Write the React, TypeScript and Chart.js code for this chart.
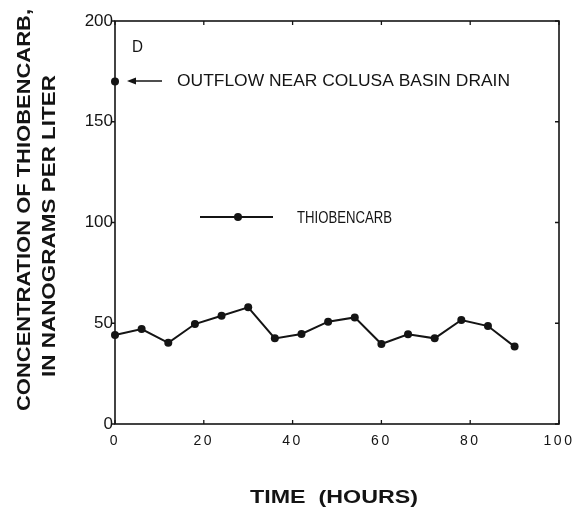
import React, { useEffect, useRef } from "react";
import { Chart, registerables } from "chart.js";

Chart.register(...registerables);

const hours = [0, 6, 12, 18, 24, 30, 36, 42, 48, 54, 60, 66, 72, 78, 84, 90];
const thiobencarb = [44.2, 47.1, 40.3, 49.6, 53.7, 57.9, 42.5, 44.7, 50.8, 52.9, 39.7, 44.5, 42.5, 51.6, 48.6, 38.4];
const outflowHours = [0];
const outflowValues = [170];
const xTickValues = [0, 20, 40, 60, 80, 100];
const yTickValues = [0, 50, 100, 150, 200];

const panelLabel = "D";
const outflowLabel = "OUTFLOW NEAR COLUSA BASIN DRAIN";
const seriesLabel = "THIOBENCARB";
const yTitle1 = "CONCENTRATION OF THIOBENCARB,";
const yTitle2 = "IN NANOGRAMS PER LITER";
const xTitle = "TIME  (HOURS)";

const INK = "#141414";
const FONT = '"Liberation Sans", Arial, sans-serif';

function fitText(ctx: CanvasRenderingContext2D, text: string, x: number, y: number, width: number) {
  const w = ctx.measureText(text).width;
  ctx.save();
  ctx.translate(x, y);
  ctx.scale(width / w, 1);
  ctx.textAlign = "left";
  ctx.textBaseline = "middle";
  ctx.fillText(text, 0, 0);
  ctx.restore();
}

function fitTextRot(ctx: CanvasRenderingContext2D, text: string, cx: number, cy: number, len: number) {
  const w = ctx.measureText(text).width;
  ctx.save();
  ctx.translate(cx, cy);
  ctx.rotate(-Math.PI / 2);
  ctx.scale(len / w, 1);
  ctx.textAlign = "center";
  ctx.textBaseline = "middle";
  ctx.fillText(text, 0, 0);
  ctx.restore();
}

const decorPlugin = {
  id: "decor",
  beforeDraw(chart: any) {
    const xs = chart.scales.x;
    if (xs && !xs.__spaced) {
      const orig = xs.drawLabels.bind(xs);
      xs.drawLabels = (area: any) => {
        const c: any = chart.ctx;
        c.save();
        c.letterSpacing = "2.5px";
        orig(area);
        c.restore();
      };
      xs.__spaced = true;
    }
  },
  afterDraw(chart: any) {
    const ctx: CanvasRenderingContext2D = chart.ctx;
    const { left, right, top, bottom } = chart.chartArea;
    const xs = chart.scales.x;
    const ys = chart.scales.y;
    ctx.save();
    (ctx as any).letterSpacing = "0px";
    ctx.strokeStyle = INK;
    ctx.fillStyle = INK;
    // frame
    ctx.lineWidth = 1.6;
    ctx.strokeRect(left, top, right - left, bottom - top);
    // tick marks
    ctx.lineWidth = 1.3;
    ctx.beginPath();
    xTickValues.forEach((v) => {
      const px = xs.getPixelForValue(v);
      ctx.moveTo(px, bottom);
      ctx.lineTo(px, bottom - 4);
      ctx.moveTo(px, top);
      ctx.lineTo(px, top + 4);
    });
    yTickValues.forEach((v) => {
      const py = ys.getPixelForValue(v);
      ctx.moveTo(left, py);
      ctx.lineTo(left - 3, py);
      ctx.moveTo(right, py);
      ctx.lineTo(right - 4, py);
    });
    ctx.stroke();

    // panel letter
    ctx.font = `16px ${FONT}`;
    fitText(ctx, panelLabel, 132, 48, 11);

    // arrow to outflow point
    ctx.lineWidth = 1.5;
    ctx.beginPath();
    ctx.moveTo(131, 81);
    ctx.lineTo(162, 81);
    ctx.stroke();
    ctx.beginPath();
    ctx.moveTo(127, 81);
    ctx.lineTo(136, 77.5);
    ctx.lineTo(136, 84.5);
    ctx.closePath();
    ctx.fill();
    ctx.font = `16px ${FONT}`;
    fitText(ctx, outflowLabel, 177, 82, 333);

    // legend
    ctx.lineWidth = 2;
    ctx.beginPath();
    ctx.moveTo(200, 217);
    ctx.lineTo(273, 217);
    ctx.stroke();
    ctx.beginPath();
    ctx.arc(238, 217, 4, 0, Math.PI * 2);
    ctx.fill();
    ctx.font = `16px ${FONT}`;
    fitText(ctx, seriesLabel, 297, 219, 95);

    // axis titles
    ctx.font = `bold 18px ${FONT}`;
    fitTextRot(ctx, yTitle1, 25, 210, 402);
    fitTextRot(ctx, yTitle2, 50, 226, 302);
    fitText(ctx, xTitle, 250, 498, 168);
    ctx.restore();
  },
};

export default function App() {
  const ref = useRef<HTMLCanvasElement | null>(null);
  useEffect(() => {
    if (!ref.current) return;
    const chart = new Chart(ref.current, {
      type: "line",
      data: {
        datasets: [
          {
            label: seriesLabel,
            data: hours.map((h, i) => ({ x: h, y: thiobencarb[i] })),
            borderColor: INK,
            backgroundColor: INK,
            borderWidth: 2,
            pointRadius: 4,
            pointBackgroundColor: INK,
            pointBorderWidth: 0,
            tension: 0,
          },
          {
            label: outflowLabel,
            data: outflowHours.map((h, i) => ({ x: h, y: outflowValues[i] })),
            borderColor: INK,
            backgroundColor: INK,
            showLine: false,
            pointRadius: 4,
            pointBorderWidth: 0,
          },
        ],
      },
      options: {
        responsive: false,
        animation: false,
        clip: false,
        layout: { padding: { top: 21, right: 27, left: 0, bottom: 0 } },
        plugins: { legend: { display: false }, tooltip: { enabled: false } },
        scales: {
          x: {
            type: "linear",
            min: 0,
            max: 100,
            afterBuildTicks: (s: any) => {
              s.ticks = xTickValues.map((v) => ({ value: v }));
            },
            afterFit: (s: any) => {
              s.height = 91;
            },
            grid: { display: false, drawTicks: false },
            border: { display: false },
            ticks: {
              color: INK,
              font: { family: FONT, size: 14 },
              padding: 9,
              maxRotation: 0,
              autoSkip: false,
            },
          },
          y: {
            type: "linear",
            min: 0,
            max: 200,
            afterBuildTicks: (s: any) => {
              s.ticks = yTickValues.map((v) => ({ value: v }));
            },
            afterFit: (s: any) => {
              s.width = 115;
            },
            grid: { display: false, drawTicks: false },
            border: { display: false },
            ticks: {
              color: INK,
              font: { family: FONT, size: 17 },
              padding: 2,
            },
          },
        },
      },
      plugins: [decorPlugin],
    } as any);
    return () => chart.destroy();
  }, []);
  return (
    <div style={{ position: "absolute", left: 0, top: 0, width: 586, height: 515, background: "#fff" }}>
      <canvas ref={ref} width={586} height={515} style={{ display: "block" }} />
    </div>
  );
}
